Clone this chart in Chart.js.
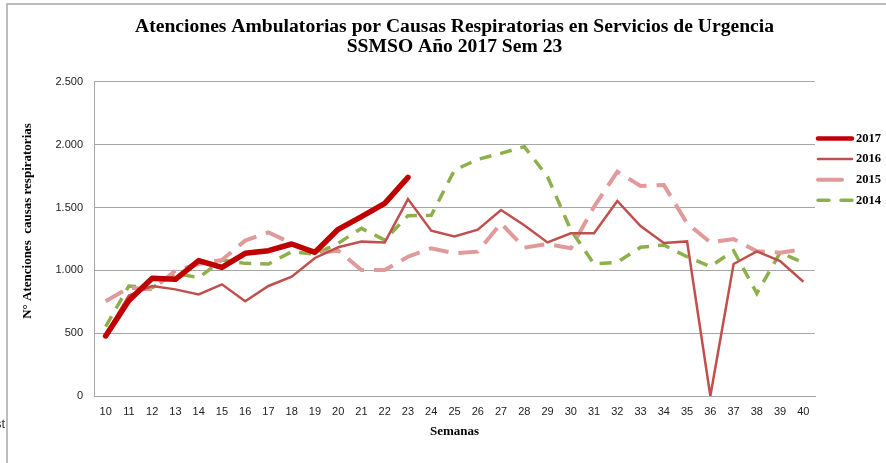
<!DOCTYPE html>
<html>
<head>
<meta charset="utf-8">
<title>Atenciones Ambulatorias SSMSO</title>
<script src="https://cdn.jsdelivr.net/npm/chart.js@4/dist/chart.umd.min.js"></script>
<style>
    html, body { margin: 0; padding: 0; background: #ffffff; }
    #wrap { width: 886px; height: 463px; }
</style>
</head>
<body>
<div id="wrap"><canvas id="urgenciaChart" width="886" height="463"></canvas></div>
<script>
// semanas epidemiologicas
var semanas = ['10','11','12','13','14','15','16','17','18','19','20','21','22','23','24','25','26','27','28','29','30','31','32','33','34','35','36','37','38','39','40'];

var datos2017 = [478, 760, 937, 929, 1078, 1024, 1136, 1157, 1210, 1144, 1327, 1428, 1534, 1741];
var datos2016 = [490, 801, 876, 849, 809, 889, 754, 876, 950, 1099, 1184, 1229, 1223, 1568, 1316, 1271, 1324, 1481, 1359, 1223, 1295, 1295, 1553, 1353, 1218, 1231, 0, 1051, 1152, 1075, 910];
var datos2015 = [754, 862, 849, 998, 1051, 1083, 1237, 1303, 1216, 1136, 1157, 1003, 1003, 1109, 1176, 1136, 1149, 1375, 1181, 1210, 1176, 1507, 1786, 1672, 1680, 1375, 1223, 1250, 1152, 1141, 1168];
var datos2014 = [552, 876, 862, 977, 942, 1083, 1056, 1051, 1149, 1128, 1216, 1335, 1242, 1436, 1438, 1799, 1884, 1932, 1985, 1746, 1322, 1051, 1064, 1184, 1202, 1109, 1030, 1157, 817, 1141, 1062];

var yTicks = [0, 500, 1000, 1500, 2000, 2500];

var serifBold = "'Liberation Serif', 'DejaVu Serif', serif";
var tickFont = "'Liberation Sans', Arial, sans-serif";

function puntoMiles(v) {
    return v.toString().replace(/\B(?=(\d{3})+(?!\d))/g, '.');
}

// marco, titulo del eje y y leyenda dibujados a mano
var extras = {
    id: 'extras',
    beforeDraw: function(chart) {
        var ctx = chart.ctx;
        ctx.save();
        ctx.fillStyle = '#ffffff';
        ctx.fillRect(0, 0, chart.width, chart.height);
        ctx.strokeStyle = '#a8a8a8';
        ctx.lineWidth = 1.5;
        ctx.beginPath();
        ctx.moveTo(7, chart.height);
        ctx.lineTo(7, 4);
        ctx.lineTo(chart.width, 4);
        ctx.stroke();
        ctx.fillStyle = '#333333';
        ctx.font = "13px " + tickFont;
        ctx.textAlign = 'right';
        ctx.textBaseline = 'middle';
        ctx.fillText('st', 5, 424);
        ctx.restore();
    },
    afterDraw: function(chart) {
        var ctx = chart.ctx;
        ctx.save();
        // titulo eje y
        ctx.translate(28, 221);
        ctx.rotate(-Math.PI / 2);
        ctx.fillStyle = '#000000';
        ctx.font = "bold 13px " + serifBold;
        ctx.textAlign = 'center';
        ctx.textBaseline = 'middle';
        ctx.fillText('N\u00b0 Atenciones  causas respiratorias', 0, 0);
        ctx.restore();

        // leyenda
        ctx.save();
        var x0 = chart.chartArea.right + 2;
        chart.data.datasets.forEach(function(ds, i) {
            var y = 138.5 + i * 20.6;
            ctx.strokeStyle = ds.borderColor;
            ctx.lineWidth = Math.min(ds.borderWidth, 4.5);
            ctx.lineCap = 'round';
            ctx.setLineDash(ds.legendDash || []);
            ctx.beginPath();
            ctx.moveTo(x0 + 1, y);
            ctx.lineTo(x0 + 35, y);
            ctx.stroke();
            ctx.setLineDash([]);
            ctx.fillStyle = '#000000';
            ctx.font = "bold 12.5px " + serifBold;
            ctx.textAlign = 'left';
            ctx.textBaseline = 'middle';
            ctx.fillText(ds.label, x0 + 39, y);
        });
        ctx.restore();
    }
};

var ctx = document.getElementById('urgenciaChart').getContext('2d');
var chart = new Chart(ctx, {
    type: 'line',
    data: {
        labels: semanas,
        datasets: [{
            label: '2017',
            data: datos2017,
            borderColor: '#C00000',
            borderWidth: 5.5,
            borderCapStyle: 'round',
            borderJoinStyle: 'round'
        }, {
            label: '2016',
            data: datos2016,
            borderColor: '#C0504D',
            borderWidth: 2.5
        }, {
            label: '2015',
            data: datos2015,
            borderColor: '#E09A99',
            borderWidth: 4,
            borderDash: [20, 10],
            legendDash: [24, 40]
        }, {
            label: '2014',
            data: datos2014,
            borderColor: '#8DB04B',
            borderWidth: 3.5,
            borderDash: [12, 9],
            legendDash: [11, 12]
        }]
    },
    options: {
        responsive: false,
        animation: false,
        events: [],
        layout: {
            padding: { left: 0, right: 71, top: 0, bottom: 0 }
        },
        elements: {
            point: { radius: 0 },
            line: { tension: 0, fill: false }
        },
        plugins: {
            legend: { display: false },
            tooltip: { enabled: false },
            title: {
                display: true,
                fullSize: false,
                text: ['Atenciones Ambulatorias por Causas Respiratorias en Servicios de Urgencia', 'SSMSO A\u00f1o 2017 Sem 23'],
                color: '#000000',
                font: { family: serifBold, size: 19.6, weight: 'bold', lineHeight: 1.02 },
                padding: { top: 17, bottom: 25 }
            }
        },
        scales: {
            x: {
                type: 'category',
                offset: true,
                grid: { display: false, drawTicks: false },
                border: { display: true, color: '#a6a6a6', width: 1 },
                ticks: {
                    color: '#222222',
                    font: { family: tickFont, size: 11 },
                    padding: 9,
                    maxRotation: 0,
                    autoSkip: false
                },
                title: {
                    display: true,
                    text: 'Semanas',
                    color: '#000000',
                    font: { family: serifBold, size: 13, weight: 'bold' },
                    padding: { top: 0, bottom: 24 }
                },
                afterFit: function(scale) {
                    scale.height = 67;
                }
            },
            y: {
                min: 0,
                max: 2500,
                afterBuildTicks: function(scale) {
                    scale.ticks = yTicks.map(function(v) { return { value: v }; });
                },
                grid: { color: '#a6a6a6', lineWidth: 1, drawTicks: false },
                border: { display: true, color: '#a6a6a6', width: 1 },
                ticks: {
                    color: '#222222',
                    font: { family: tickFont, size: 11 },
                    padding: 11,
                    callback: function(v) { return puntoMiles(v); }
                },
                afterFit: function(scale) {
                    scale.width = 94;
                }
            }
        }
    },
    plugins: [extras]
});
</script>
</body>
</html>
